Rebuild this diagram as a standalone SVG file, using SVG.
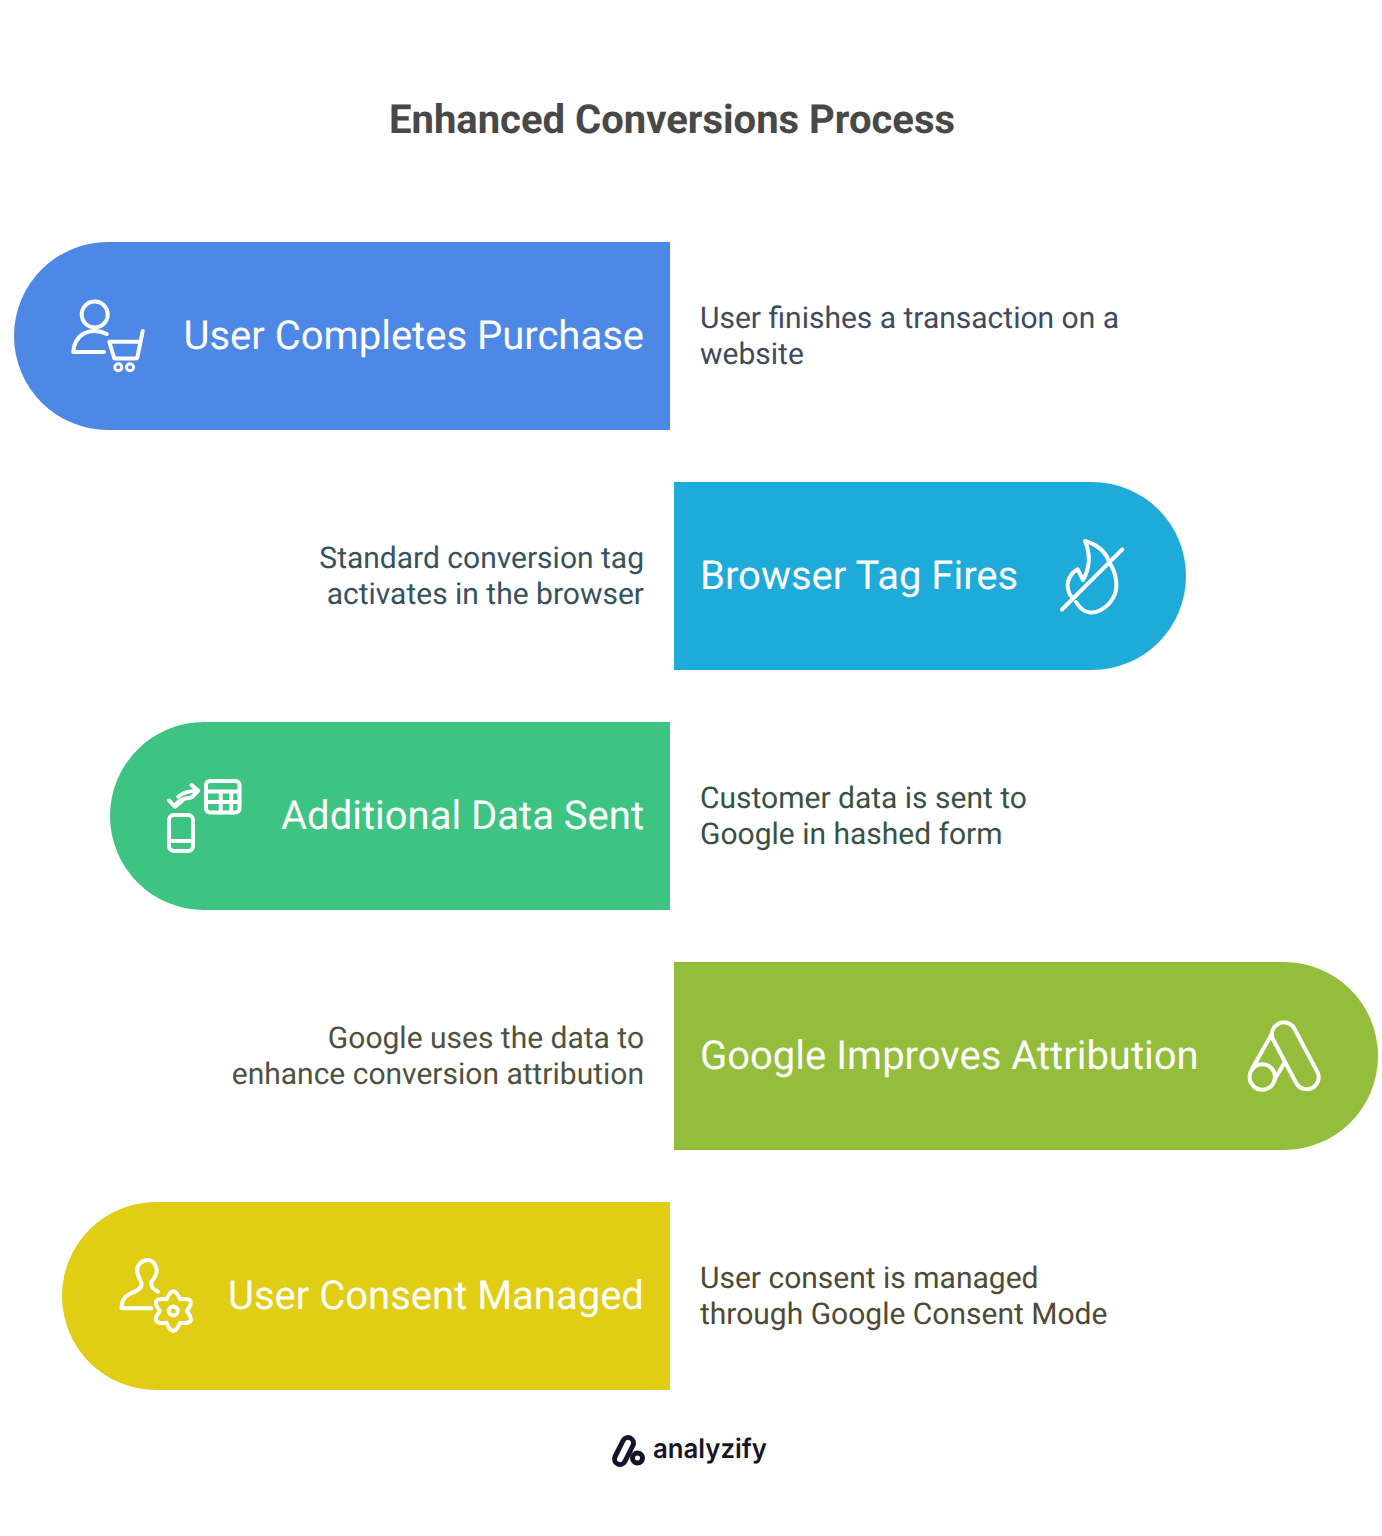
<svg xmlns="http://www.w3.org/2000/svg" width="1382" height="1536" viewBox="0 0 1382 1536">
<style>
text{font-family:Roboto,"Liberation Sans",sans-serif;text-rendering:geometricPrecision}
.t{font-size:40px;fill:#fff}
.d{font-size:30px}
.e{text-anchor:end}
.i{fill:none;stroke:#fff;stroke-width:4;stroke-linecap:round;stroke-linejoin:round}
.l{fill:none;stroke:#14142b;stroke-width:5;stroke-linecap:round;stroke-linejoin:round}
</style>
<rect width="1382" height="1536" fill="#fff"/>
<g id="title"><text x="672" y="133" text-anchor="middle" font-size="40" font-weight="700" fill="#484848">Enhanced Conversions Process</text></g>
<g id="node1">
<path d="M670 242V430H108A94 94 0 0 1 108 242Z" fill="#4e88e7"/>
<g class="i"><circle cx="94.700" cy="314.500" r="13"/><path d="M106.700 334C99 330 90 330 84 333.500C77 337 73.300 345 73.300 352H104"/><path d="M142.700 331L137.300 357.700Q137 358.500 135 358.500H114.300L109.300 341.700H139.300"/><circle cx="118.300" cy="367.300" r="3.500" stroke-width="3"/><circle cx="130" cy="367.300" r="3.500" stroke-width="3"/></g>
<text class="t" x="183.500" y="349">User Completes Purchase</text>
<text class="d" x="700" y="328" fill="#3d4a5f">User finishes a transaction on a</text>
<text class="d" x="700" y="364" fill="#3d4a5f">website</text>
</g>
<g id="node2">
<path d="M674 482V670H1092A94 94 0 0 0 1092 482Z" fill="#1eabda"/>
<path class="i" d="M1085 541C1090 553 1091 566 1083 580L1077.700 569.300C1070 573 1066 583 1068.300 590Q1069 594 1071.700 597M1085 541C1098 545 1106 552 1109 562C1118 575 1118 590 1113 598C1106 610 1095 613 1090 612.500C1084 612 1079 607 1076 602M1062 609.500L1122.300 549.300"/>
<text class="t" x="700" y="589">Browser Tag Fires</text>
<text class="d e" x="644" y="568" fill="#35525e">Standard conversion tag</text>
<text class="d e" x="644" y="604" fill="#35525e">activates in the browser</text>
</g>
<g id="node3">
<path d="M670 722V910H204A94 94 0 0 1 204 722Z" fill="#3dc482"/>
<g class="i"><rect x="206" y="781" width="33.500" height="31.500" rx="4"/><path d="M206 791.500H239.500M206 802H239.500M220.700 791.500V812.500M231.200 791.500V812.500"/><rect x="169" y="815" width="24" height="36" rx="5"/><path d="M169 841H193"/><path d="M178.300 796.700C183.300 791.700 190 790.700 198.300 790.700M191.500 785L198.300 790.700L192 797M175 806.700C176.700 801 183.300 798.300 191 797.500M169 800.500L175 806.700L182.500 800.500"/></g>
<text class="t" x="281" y="829">Additional Data Sent</text>
<text class="d" x="700" y="808" fill="#375245">Customer data is sent to</text>
<text class="d" x="700" y="844" fill="#375245">Google in hashed form</text>
</g>
<g id="node4">
<path d="M674 962V1150H1284A94 94 0 0 0 1284 962Z" fill="#93bd3a"/>
<g class="i"><circle cx="1262.300" cy="1077" r="12.700"/><path d="M1293.900 1027.800L1317.800 1072.800A12 12 0 0 1 1296.600 1083.800L1272.700 1038.800A12 12 0 0 1 1293.900 1027.800ZM1271.700 1034.300L1252.500 1068M1285 1061.700L1274.300 1080"/></g>
<text class="t" x="700" y="1069">Google Improves Attribution</text>
<text class="d e" x="644" y="1048" fill="#4d5240">Google uses the data to</text>
<text class="d e" x="644" y="1084" fill="#4d5240">enhance conversion attribution</text>
</g>
<g id="node5">
<path d="M670 1202V1390H156A94 94 0 0 1 156 1202Z" fill="#e0cd14"/>
<g class="i"><path d="M158 1291.700C152.500 1289 150.500 1285 151.500 1281.700C154.500 1278 157.500 1273 156.500 1269C155.500 1263 151.500 1260 148.200 1260C141.500 1260 137.200 1265 137.200 1270C137.200 1276 140.500 1280 141.500 1283.300C142.500 1290 133.500 1292 129.500 1294C123.500 1297 121.500 1302 121.500 1308.300H151.500"/><path d="M166.600 1299.300Q173.300 1283 180 1299.300Q197.500 1297 186.800 1311Q197.500 1325 180 1322.700Q173.300 1339 166.600 1322.700Q149.100 1325 159.800 1311Q149.100 1297 166.600 1299.300Z"/><circle cx="173.300" cy="1311" r="4.500"/></g>
<text class="t" x="228" y="1309">User Consent Managed</text>
<text class="d" x="700" y="1288" fill="#4d4a35">User consent is managed</text>
<text class="d" x="700" y="1324" fill="#4d4a35">through Google Consent Mode</text>
</g>
<g id="logo">
<path class="l" d="M632.900 1445.500L624.900 1461.500A5.500 5.500 0 0 1 615.100 1456.500L623.100 1440.500A5.500 5.500 0 0 1 632.900 1445.500Z"/>
<circle class="l" cx="637.500" cy="1458" r="5"/>
<text x="653" y="1458" font-size="27" font-weight="600" fill="#14142b" textLength="114" lengthAdjust="spacingAndGlyphs" style="font-family:Inter,Lato,sans-serif">analyzify</text>
</g>
</svg>
